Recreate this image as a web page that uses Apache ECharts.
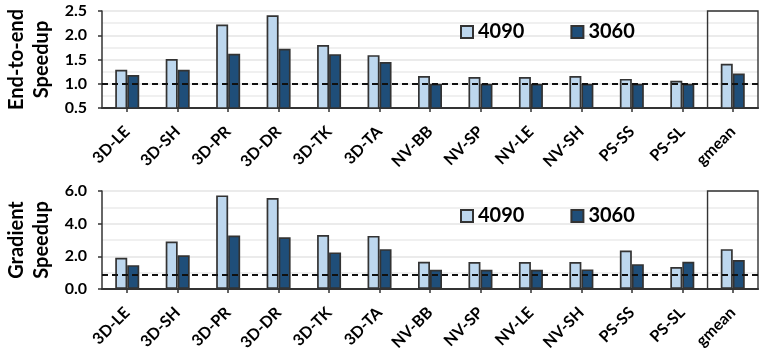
<!DOCTYPE html>
<html>
<head>
<meta charset="utf-8">
<script src="https://cdn.jsdelivr.net/npm/echarts@6/dist/echarts.min.js"></script>
<style>
html,body{margin:0;padding:0;background:#fff;}
#chart{width:766px;height:359px;}
</style>
</head>
<body>
<div id="chart"></div>
<script>
const categories = ['3D-LE','3D-SH','3D-PR','3D-DR','3D-TK','3D-TA','NV-BB','NV-SP','NV-LE','NV-SH','PS-SS','PS-SL','gmean'];
const seriesNames = ['4090','3060'];
const e2e4090 = [1.29,1.51,2.22,2.41,1.80,1.59,1.16,1.14,1.14,1.16,1.10,1.06,1.41];
const e2e3060 = [1.18,1.29,1.62,1.72,1.61,1.45,1.00,1.00,1.00,1.00,1.00,1.00,1.21];
const grad4090 = [1.91,2.91,5.73,5.57,3.31,3.25,1.67,1.65,1.65,1.65,2.36,1.34,2.44];
const grad3060 = [1.46,2.07,3.27,3.17,2.24,2.44,1.18,1.18,1.18,1.20,1.52,1.67,1.77];
const e2eBaseline = 1.0;
const gradBaseline = 0.88;
const e2eTicks = {min:0.5, max:2.5, interval:0.5};
const gradTicks = {min:0, max:6, interval:2};
const highlightCategory = 'gmean';

const FONT = 'Lato';
const lightColor = '#BDD7EE';
const darkColor = '#1F4E79';
const edge = '#333333';

const chart = echarts.init(document.getElementById('chart'), null, {renderer:'canvas'});

function yAxisCfg(gridIndex, ticks, name, minorSplit){
  return {
    type:'value', gridIndex, min:ticks.min, max:ticks.max, interval:ticks.interval,
    name, nameLocation:'middle', nameGap:48, nameRotate:90,
    nameTextStyle:{fontFamily:FONT, fontWeight:'bold', fontSize:20, lineHeight:25, color:'#000'},
    axisLine:{show:true, lineStyle:{color:edge, width:1.5}},
    axisTick:{show:true, length:4, lineStyle:{color:edge, width:1.5}},
    axisLabel:{fontFamily:FONT, fontWeight:'bold', fontSize:16, color:'#000', margin:15,
      formatter:v=>v.toFixed(1)},
    splitLine:{show:true, lineStyle:{color:'#e4e4e4', width:1.5}},
    minorTick:{show:false, splitNumber:minorSplit},
    minorSplitLine:{show:true, lineStyle:{color:'#ececec', width:1.5}}
  };
}
function xAxisCfg(gridIndex){
  return {
    type:'category', gridIndex, data:categories,
    axisLine:{show:true, lineStyle:{color:edge, width:2}},
    axisTick:{show:true, alignWithLabel:true, length:4, lineStyle:{color:edge, width:1.5}},
    axisLabel:{fontFamily:FONT, fontWeight:'bold', fontSize:16, color:'#000', rotate:45, interval:0, margin:21,
      overflow:'none', hideOverlap:false},
    splitLine:{show:false}
  };
}
function barSeries(name, idx, data, color, baseline){
  const s = {
    type:'bar', name, xAxisIndex:idx, yAxisIndex:idx, data,
    barWidth:12, barGap:'0%',
    itemStyle:{color, borderColor:edge, borderWidth:1.7},
    emphasis:{disabled:true},
    z:3
  };
  if (baseline !== null){
    s.markLine = {
      silent:true, symbol:['none','none'], label:{show:false},
      lineStyle:{color:'#111', type:[6,4], width:1.8},
      data:[{yAxis:baseline}], z:5
    };
  }
  return s;
}
function boxSeries(idx, ticks){
  return {
    type:'custom', xAxisIndex:idx, yAxisIndex:idx, silent:true, z:2,
    data:[[highlightCategory, ticks.max, ticks.min]],
    encode:{x:0, y:1},
    renderItem:(params, api)=>{
      const c = api.value(0);
      const top = api.coord([c, api.value(1)]);
      const bot = api.coord([c, api.value(2)]);
      const w = api.size([1,0])[0];
      return {type:'rect', shape:{x:top[0]-w/2, y:top[1], width:w, height:bot[1]-top[1]},
        style:{fill:'none', stroke:edge, lineWidth:1.4}};
    }
  };
}
function legendCfg(top){
  return {
    data:seriesNames, left:455, top, orient:'horizontal', itemGap:46,
    itemWidth:12, itemHeight:12, icon:'rect',
    textStyle:{fontFamily:FONT, fontWeight:'bold', fontSize:20, color:'#000'},
    selectedMode:false
  };
}

chart.setOption({
  animation:false,
  color:[lightColor, darkColor],
  grid:[
    {left:102, right:8, top:11, height:97, outerBoundsMode:'none'},
    {left:102, right:8, top:191, height:98, outerBoundsMode:'none'}
  ],
  legend:[legendCfg(17), legendCfg(201)],
  xAxis:[xAxisCfg(0), xAxisCfg(1)],
  yAxis:[
    yAxisCfg(0, e2eTicks, 'End-to-end\nSpeedup', 2),
    yAxisCfg(1, gradTicks, 'Gradient\nSpeedup', 2)
  ],
  series:[
    boxSeries(0, e2eTicks),
    boxSeries(1, gradTicks),
    barSeries(seriesNames[0], 0, e2e4090, lightColor, e2eBaseline),
    barSeries(seriesNames[1], 0, e2e3060, darkColor, null),
    barSeries(seriesNames[0], 1, grad4090, lightColor, gradBaseline),
    barSeries(seriesNames[1], 1, grad3060, darkColor, null)
  ]
});
</script>
</body>
</html>
